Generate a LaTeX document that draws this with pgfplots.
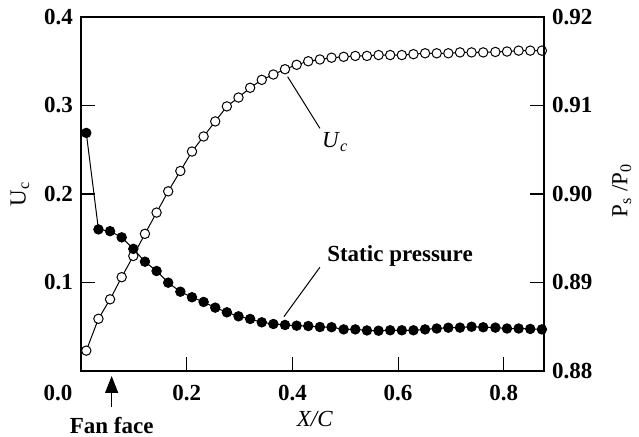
\documentclass[border=0pt]{standalone}
\usepackage{pgfplots}
\pgfplotsset{compat=1.18}
\usepackage{pgfplotstable}
\usepackage{fontspec}
\setmainfont{Liberation Serif}
\usetikzlibrary{arrows.meta}

\pgfplotstableread{
x U P
0.010 0.023 0.90690
0.033 0.059 0.89600
0.055 0.081 0.89580
0.077 0.106 0.89510
0.099 0.130 0.89380
0.121 0.155 0.89235
0.143 0.179 0.89130
0.165 0.203 0.88998
0.188 0.226 0.88896
0.210 0.248 0.88833
0.232 0.265 0.88780
0.254 0.282 0.88716
0.276 0.299 0.88663
0.298 0.309 0.88618
0.320 0.320 0.88588
0.342 0.329 0.88550
0.364 0.335 0.88531
0.386 0.341 0.88520
0.408 0.346 0.88512
0.430 0.350 0.88508
0.452 0.352 0.88497
0.474 0.354 0.88495
0.497 0.355 0.88470
0.519 0.356 0.88470
0.541 0.356 0.88458
0.563 0.357 0.88455
0.585 0.357 0.88460
0.607 0.357 0.88460
0.629 0.358 0.88460
0.651 0.359 0.88470
0.673 0.359 0.88480
0.695 0.359 0.88489
0.717 0.360 0.88490
0.739 0.360 0.88500
0.761 0.360 0.88494
0.784 0.3605 0.88490
0.806 0.361 0.88480
0.828 0.362 0.88480
0.850 0.362 0.88475
0.872 0.362 0.88470
}\datatable

\begin{document}
\fontsize{11.5}{13.5}\selectfont
\begin{tikzpicture}
\begin{axis}[
  at={(0,0)}, anchor=south west,
  scale only axis, width=231.5pt, height=177pt,
  xmin=0, xmax=0.876, ymin=0, ymax=0.4,
  xtick={0.2,0.4,0.6,0.8}, ytick={0.1,0.2,0.3,0.4},
  xtick pos=bottom, ytick pos=left, tick align=inside, major tick length=7pt,
  axis line style={line width=0.6pt}, tick style={line width=0.6pt, black},
  /pgf/number format/.cd, fixed, fixed zerofill, precision=1, assume math mode=true, /pgfplots/.cd,
  tick label style={font=\fontsize{11.5}{13.5}\selectfont\bfseries},
  xticklabel style={yshift=-3pt},
  xlabel={\textit{X/C}},
  xlabel style={at={(axis description cs:0.505,-0.136)}, anchor=center, font=\fontsize{11.5}{13.5}\selectfont},
  ylabel={U\textsubscript{c}},
  ylabel style={at={(axis description cs:-0.132,0.5)}, anchor=center, font=\fontsize{11.5}{13.5}\selectfont},
  clip=false,
]
\addplot[black, line width=0.5pt, mark=*, mark size=2.35pt, mark options={fill=white, draw=black, line width=0.5pt}] table[x=x, y=U] {\datatable};
\node[anchor=north, inner sep=0.333em, font=\fontsize{11.5}{13.5}\selectfont\bfseries] at ([xshift=-11.5pt, yshift=-3pt]axis cs:0,0) {0.0};
\draw[black, line width=0.5pt] (axis cs:0.391,0.3325) -- (axis cs:0.452,0.2742);
\node[font=\fontsize{11.5}{13.5}\selectfont] at (axis cs:0.481,0.2588) {\textit{U}\textsubscript{\textit{c}}};
\draw[black, line width=0.5pt] (axis cs:0.384,0.0614) -- (axis cs:0.452,0.1172);
\node[font=\fontsize{11.5}{13.5}\selectfont\bfseries] at (axis cs:0.6036,0.130) {Static pressure};
\draw[black, line width=0.6pt, -{Triangle[length=8.5pt, width=6.5pt]}] ([yshift=-18pt]axis cs:0.058,0) -- ([yshift=-2.5pt]axis cs:0.058,0);
\node[font=\fontsize{11.5}{13.5}\selectfont\bfseries] at ([yshift=-27.5pt]axis cs:0.058,0) {Fan face};
\end{axis}
\begin{axis}[
  at={(0,0)}, anchor=south west,
  scale only axis, width=231.5pt, height=177pt,
  xmin=0, xmax=0.876, ymin=0.88, ymax=0.92,
  axis x line=none, axis y line*=right,
  ytick={0.88,0.89,0.90,0.91,0.92},
  tick align=inside, major tick length=7pt,
  axis line style={line width=0.6pt}, tick style={line width=0.6pt, black},
  /pgf/number format/.cd, fixed, fixed zerofill, precision=2, assume math mode=true, /pgfplots/.cd,
  tick label style={font=\fontsize{11.5}{13.5}\selectfont\bfseries},
  ylabel={P\textsubscript{s} /P\textsubscript{0}},
  ylabel style={at={(axis description cs:1.168,0.51)}, anchor=center, rotate=0, font=\fontsize{11.5}{13.5}\selectfont},
  clip=false,
]
\addplot[black, line width=0.5pt, mark=*, mark size=2.35pt, mark options={fill=black, draw=black}] table[x=x, y=P] {\datatable};
\end{axis}
\pgfresetboundingbox
\path[use as bounding box] (-40.5pt,-33pt) rectangle (279pt,185.5pt);
\end{tikzpicture}
\end{document}
